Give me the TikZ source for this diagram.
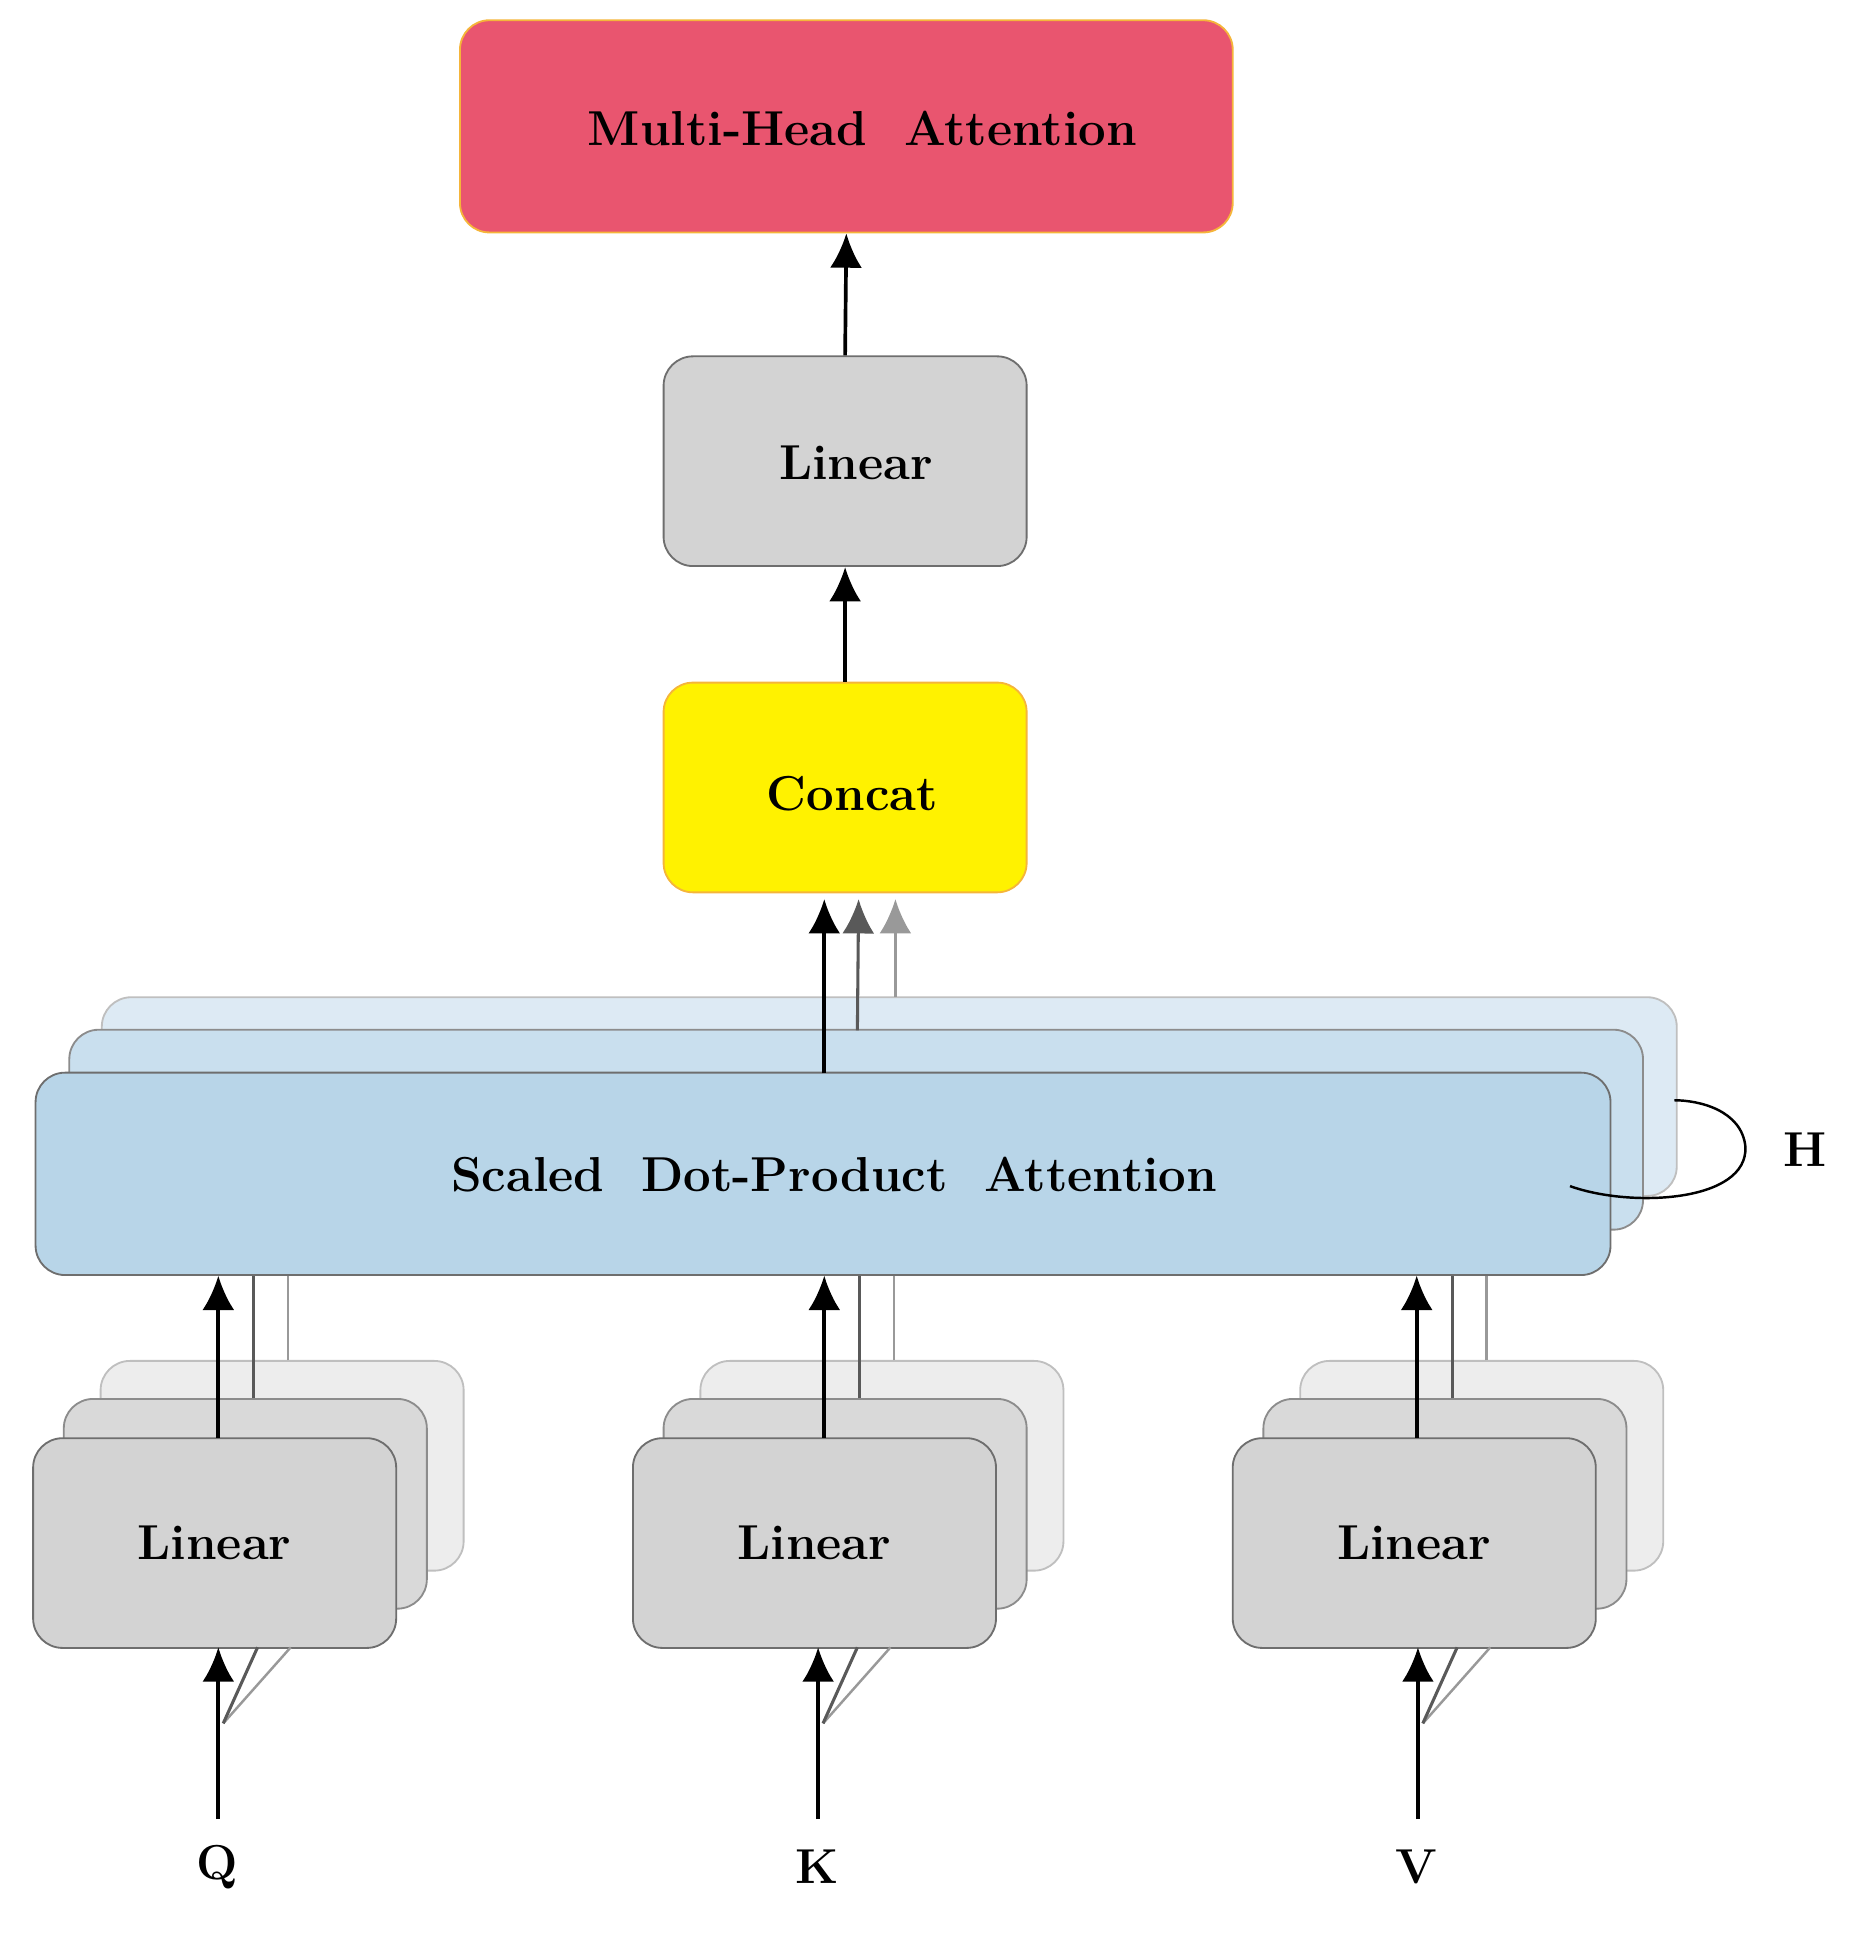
\documentclass[tikz,border=0pt]{standalone}
\usetikzlibrary{arrows.meta}
\definecolor{mha}{HTML}{E9556F}
\definecolor{mhab}{HTML}{F5B53A}
\definecolor{lin}{HTML}{D3D3D3}
\definecolor{linb}{HTML}{6E6E6E}
\definecolor{sd1}{HTML}{B8D5E8}
\definecolor{sd2}{HTML}{C9DFEE}
\definecolor{sd3}{HTML}{DDEAF4}
\begin{document}
\begin{tikzpicture}[x=1pt,y=-1pt,
  box/.style={draw=linb,line width=1.5pt,rounded corners=24pt,minimum width=296pt,minimum height=171pt,inner sep=0pt,font=\fontsize{40}{48}\selectfont\bfseries},
  lbl/.style={font=\fontsize{40}{48}\selectfont\bfseries},
  arr/.style={line width=3pt,-{Latex[length=28pt,width=26pt]}},
  garr/.style={line width=2.5pt,draw=black!65,fill=black!65,-{Latex[length=28pt,width=26pt]}},
  larr/.style={line width=2.5pt,draw=black!40,fill=black!40,-{Latex[length=28pt,width=26pt]}},
  gl/.style={line width=2.5pt,draw=black!65},
  ll/.style={line width=2pt,draw=black!40}]
\useasboundingbox (0,0) rectangle (1525,1580);
% top boxes
\node[box,fill=mha,draw=mhab,minimum width=630pt,minimum height=173pt] (mha) at (690,103) {};
\node[lbl] at (703,105) {Multi-Head\ \ Attention};
\node[box,fill=lin] (lt) at (689,376) {};
\node[lbl] at (698,377) {Linear};
\node[box,fill=yellow,draw=mhab] (cc) at (689,642) {};
\node[lbl] at (695,647) {Concat};
\draw[arr] (lt.north) -- (mha.south);
\draw[arr] (cc.north) -- (lt.south);
% SDPA stack
\node[box,fill=sd3,draw=black!25,minimum width=1284pt,minimum height=162pt] (s3) at (725,894) {};
\node[box,fill=sd2,draw=black!45,minimum width=1283pt,minimum height=163pt] (s2) at (698,921) {};
\node[box,fill=sd1,draw=linb,minimum width=1284pt,minimum height=165pt] (s1) at (671,957) {};
\node[lbl] at (680,958) {Scaled\ \ Dot-Product\ \ Attention};
\coordinate (c1) at (672,733);
\coordinate (c2) at (700,733);
\coordinate (c3) at (730,733);
\draw[larr] (730,813) -- (c3);
\draw[garr] (699,840) -- (c2);
\draw[arr] (672,875) -- (c1);
% H loop
\draw[line width=2pt] (1280,967) .. controls (1330,985) and (1425,980) .. (1423,935) .. controls (1420,905) and (1385,897) .. (1365,897);
\node[lbl] (H) at (1472,937) {H};
% Linear stacks
\foreach \n/\x/\lab/\xa in {q/175/Q/178,k/664/K/672,v/1153/V/1155}{
  \node[box,fill=black!7,draw=black!25] (\n3) at (\x+55,1195) {};
  \node[box,fill=black!15,draw=black!45] (\n2) at (\x+25,1226) {};
  \node[box,fill=lin] (\n1) at (\x,1258) {};
  \node[lbl] at (\x,1258) {Linear};
  \draw[ll] (\xa+57,1109) -- (\xa+57,1040);
  \draw[gl] (\xa+29,1140) -- (\xa+29,1040);
  \draw[arr] (\xa,1172) -- (\xa,1040);
  \coordinate (\n in) at (\x+3,1483);
  \node[lbl] (\n lab) at (\x+2,1522) {\lab};
  \draw[ll] (\x+7,1405) -- (\x+62,1343);
  \draw[gl] (\x+7,1405) -- (\x+35,1343);
  \draw[arr] (\n in) -- (\x+3,1343);
}
\end{tikzpicture}
\end{document}
